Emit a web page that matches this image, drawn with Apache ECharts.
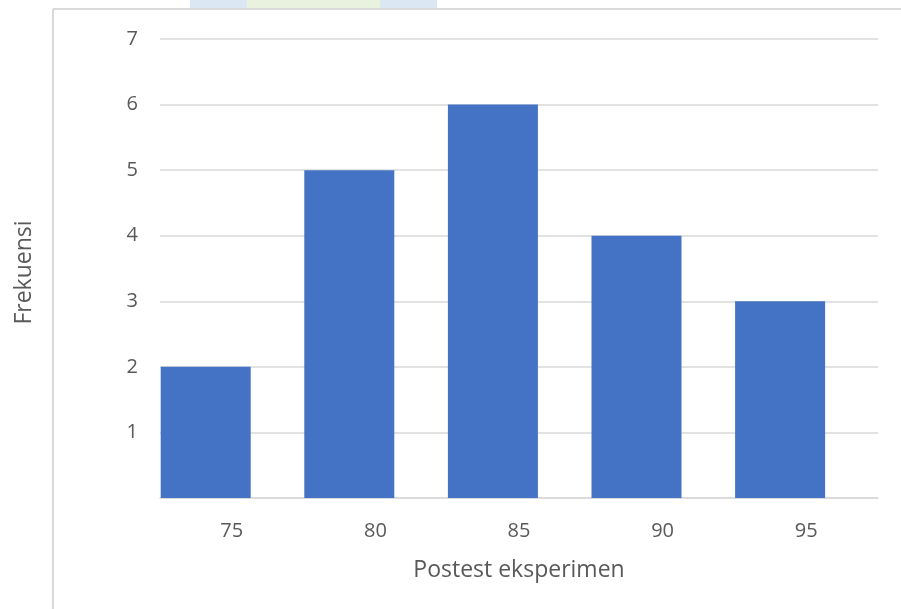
<!DOCTYPE html>
<html>
<head>
<meta charset="utf-8">
<script src="https://cdn.jsdelivr.net/npm/echarts@6/dist/echarts.min.js"></script>
<style>
  html, body { margin: 0; padding: 0; background: #fff; }
  #chart { width: 901px; height: 609px; }
</style>
</head>
<body>
<div id="chart"></div>
<script>
// Frequency of post-test scores in the experiment group
const categories = ['75', '80', '85', '90', '95'];
const frequencies = [2, 5, 6, 4, 3];
const yTicks = [1, 2, 3, 4, 5, 6, 7];
// second (empty) series keeps the clustered-bar slot of the original workbook
const emptySeries = [null, null, null, null, null];

const FONT = '"Open Sans", sans-serif';
const TEXT = '#595959';

const chart = echarts.init(document.getElementById('chart'), null, { renderer: 'canvas' });

chart.setOption({
  backgroundColor: '#ffffff',
  animation: false,
  graphic: [
    // faint decoration peeking above the frame
    { type: 'rect', shape: { x: 190, y: 0, width: 57, height: 8 }, style: { fill: '#dbe8f4' }, silent: true },
    { type: 'rect', shape: { x: 247, y: 0, width: 133, height: 8 }, style: { fill: '#e9f2df' }, silent: true },
    { type: 'rect', shape: { x: 380, y: 0, width: 57, height: 8 }, style: { fill: '#dbe8f4' }, silent: true },
    // chart frame (top and left edges visible)
    { type: 'line', shape: { x1: 53, y1: 9, x2: 901, y2: 9 }, style: { stroke: '#d9d9d9', lineWidth: 2 }, silent: true },
    { type: 'line', shape: { x1: 53, y1: 9, x2: 53, y2: 609 }, style: { stroke: '#d9d9d9', lineWidth: 2 }, silent: true }
  ],
  grid: { left: 160, right: 23, top: 39, bottom: 111, containLabel: false },
  xAxis: {
    type: 'category',
    data: categories,
    name: 'Postest eksperimen',
    nameLocation: 'middle',
    nameGap: 61,
    nameTextStyle: { color: TEXT, fontSize: 23, fontFamily: FONT },
    axisLine: { show: true, lineStyle: { color: '#d9d9d9', width: 1.5 } },
    axisTick: { show: false },
    axisLabel: { color: TEXT, fontSize: 20, fontFamily: FONT, margin: 23 }
  },
  yAxis: {
    type: 'value',
    min: 0,
    max: 7,
    interval: 1,
    name: 'Frekuensi',
    nameLocation: 'middle',
    nameGap: 124,
    nameRotate: 90,
    nameTextStyle: { color: TEXT, fontSize: 23, fontFamily: FONT, padding: [0, 8, 0, 0] },
    axisLine: { show: false },
    axisTick: { show: false },
    axisLabel: {
      color: TEXT, fontSize: 20, fontFamily: FONT, margin: 22,
      formatter: v => (yTicks.includes(v) ? String(v) : '')
    },
    splitLine: { show: true, lineStyle: { color: '#d9d9d9', width: 1.5 } }
  },
  series: [
    {
      type: 'bar',
      data: frequencies,
      barWidth: 90,
      barGap: '-42%',
      itemStyle: { color: '#4472c4' }
    },
    {
      type: 'bar',
      data: emptySeries,
      barWidth: 90,
      itemStyle: { color: '#ed7d31' }
    }
  ]
});
</script>
</body>
</html>
